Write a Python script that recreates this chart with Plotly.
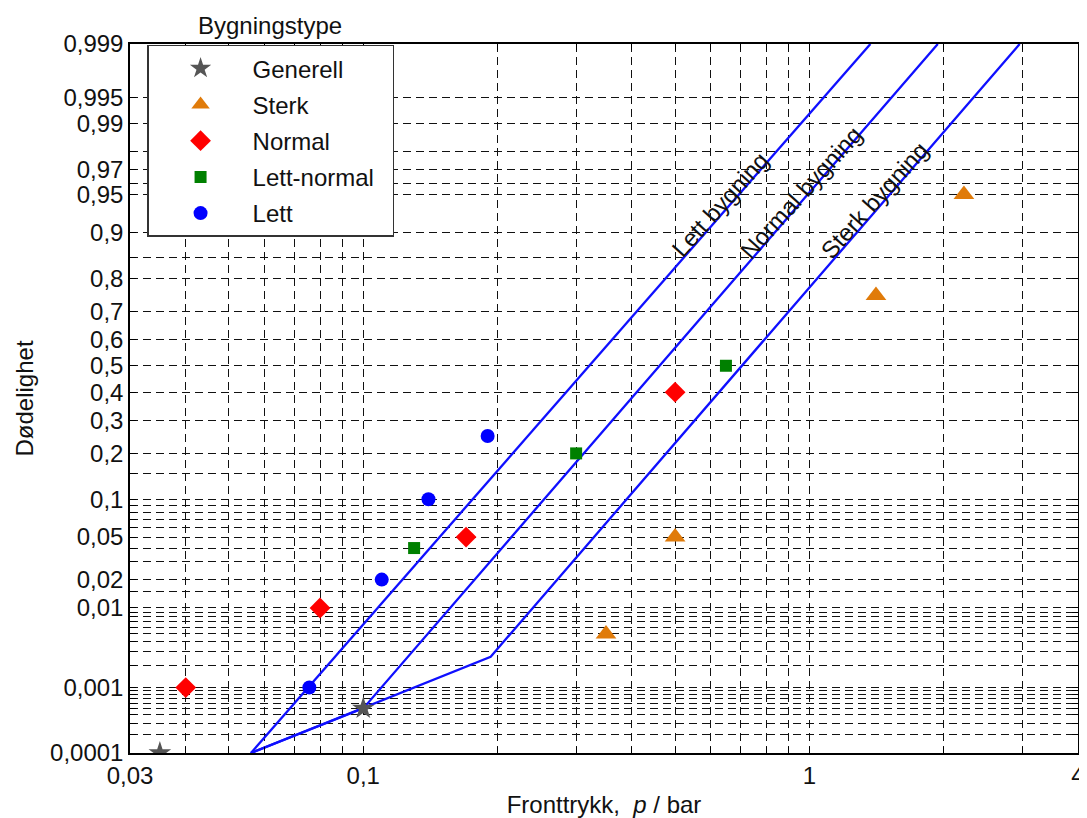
import math
from statistics import NormalDist
import plotly.graph_objects as go

ppf = NormalDist().inv_cdf

# ---------------- data ----------------
generell_x = [0.035, 0.1]
generell_y = [0.0001, 0.0005]

sterk_x = [0.35, 0.5, 1.41, 2.22]
sterk_y = [0.005, 0.05, 0.75, 0.95]

normal_x = [0.04, 0.08, 0.17, 0.5]
normal_y = [0.001, 0.01, 0.05, 0.4]

lettnormal_x = [0.13, 0.30, 0.65]
lettnormal_y = [0.04, 0.2, 0.5]

lett_x = [0.0757, 0.11, 0.14, 0.19]
lett_y = [0.001, 0.02, 0.1, 0.25]

# curves (probit model lines, vertices)
curve_lett_x = [0.056, 1.37]
curve_lett_y = [0.0001, 0.999]
curve_normal_x = [0.056, 0.1, 1.94]
curve_normal_y = [0.0001, 0.0005, 0.999]
curve_sterk_x = [0.056, 0.193, 2.96]
curve_sterk_y = [0.0001, 0.0026, 0.999]

# axis ticks / grid
x_grid = [0.03, 0.04, 0.05, 0.06, 0.07, 0.08, 0.09, 0.1, 0.2, 0.3, 0.4, 0.5,
          0.6, 0.7, 0.8, 0.9, 1, 2, 3, 4]
x_labels = {0.03: "0,03", 0.1: "0,1", 1: "1", 4: "4"}

y_grid = [0.0001, 0.0002, 0.0003, 0.0004, 0.0005, 0.0006, 0.0007, 0.0008, 0.0009,
          0.001, 0.002, 0.003, 0.004, 0.005, 0.006, 0.007, 0.008, 0.009,
          0.01, 0.015, 0.02, 0.03, 0.04, 0.05, 0.06, 0.07, 0.08, 0.09,
          0.1, 0.15, 0.2, 0.3, 0.4, 0.5, 0.6, 0.7, 0.8, 0.85, 0.9,
          0.95, 0.96, 0.97, 0.98, 0.99, 0.995, 0.999]
y_labels = {0.0001: "0,0001", 0.001: "0,001", 0.01: "0,01", 0.02: "0,02",
            0.05: "0,05", 0.1: "0,1", 0.2: "0,2", 0.3: "0,3", 0.4: "0,4",
            0.5: "0,5", 0.6: "0,6", 0.7: "0,7", 0.8: "0,8", 0.9: "0,9",
            0.95: "0,95", 0.97: "0,97", 0.99: "0,99", 0.995: "0,995",
            0.999: "0,999"}

curve_labels = ["Lett bygning", "Normal bygning", "Sterk bygning"]
# ---------------------------------------

FONT = "Liberation Sans, Arial, sans-serif"
FS = 24
TXT = "#111111"


def P(vals):
    return [ppf(v) for v in vals]


fig = go.Figure()

line_col = "#0f0fff"
for cx, cy in [(curve_lett_x, curve_lett_y), (curve_normal_x, curve_normal_y),
               (curve_sterk_x, curve_sterk_y)]:
    fig.add_trace(go.Scatter(x=cx, y=P(cy), mode="lines",
                             line=dict(color=line_col, width=2.3),
                             showlegend=False, hoverinfo="skip"))

NB = "\u00a0"
series = [
    ("Generell", generell_x, generell_y, "star", "#555555", 17),
    ("Sterk", sterk_x, sterk_y, "triangle-up", "#e07b0a", 18),
    ("Normal", normal_x, normal_y, "diamond", "#ff0000", 16),
    ("Lett-normal" + NB * 2, lettnormal_x, lettnormal_y, "square", "#008000", 12),
    ("Lett", lett_x, lett_y, "circle", "#0000ff", 14),
]
for name, xs, ys, sym, col, sz in series:
    fig.add_trace(go.Scatter(x=xs, y=P(ys), mode="markers", name=name,
                             legendgroup=name,
                             marker=dict(symbol=sym, color=col, size=sz,
                                         line=dict(width=0))))

# curve labels placed along the lines
label_pos = [(0.631, 0.939), (0.958, 0.952), (1.396, 0.944)]
for txt, (lx, ly) in zip(curve_labels, label_pos):
    fig.add_annotation(x=math.log10(lx), y=ppf(ly), text=txt, showarrow=False,
                       textangle=-48, font=dict(family=FONT, size=FS, color=TXT),
                       xref="x", yref="y")

fig.add_annotation(x=0.148, y=1.0, yshift=19, xref="paper", yref="paper",
                   xanchor="center", yanchor="middle",
                   text="Bygningstype", showarrow=False,
                   font=dict(family=FONT, size=FS, color=TXT))

fig.update_xaxes(
    type="log", range=[math.log10(0.03), math.log10(4)],
    tickvals=x_grid, ticktext=[x_labels.get(v, "") for v in x_grid],
    ticks="inside", ticklen=6, tickcolor="black", tickwidth=1.3,
    showline=True, linecolor="black", linewidth=1.5, mirror="ticks",
    showgrid=True, gridcolor="#111111", gridwidth=1.3, griddash="8px,5px",
    zeroline=False,
    tickfont=dict(family=FONT, size=FS, color=TXT),
    title=dict(text="Fronttrykk,  <i>p</i> / bar", standoff=11,
               font=dict(family=FONT, size=FS, color=TXT)),
)
fig.update_yaxes(
    range=[ppf(0.0001), ppf(0.999)],
    tickvals=P(y_grid), ticktext=[y_labels.get(v, "") for v in y_grid],
    ticks="inside", ticklen=6, tickcolor="black", tickwidth=1.3,
    showline=True, linecolor="black", linewidth=1.5, mirror="ticks",
    showgrid=True, gridcolor="#111111", gridwidth=1.3, griddash="8px,5px",
    zeroline=False,
    tickfont=dict(family=FONT, size=FS, color=TXT),
    title=dict(text="Dødelighet", standoff=10,
               font=dict(family=FONT, size=FS, color=TXT)),
)

fig.update_layout(
    width=1079, height=810,
    margin=dict(l=122, r=9, t=36, b=65, autoexpand=False),
    paper_bgcolor="white", plot_bgcolor="white",
    showlegend=True,
    legend=dict(x=0.018, y=0.999, xanchor="left", yanchor="top",
                bgcolor="white", bordercolor="#333333", borderwidth=1.5,
                font=dict(family=FONT, size=FS, color=TXT),
                itemwidth=94, tracegroupgap=2, traceorder="grouped"),
)

fig.write_html("out.html")
